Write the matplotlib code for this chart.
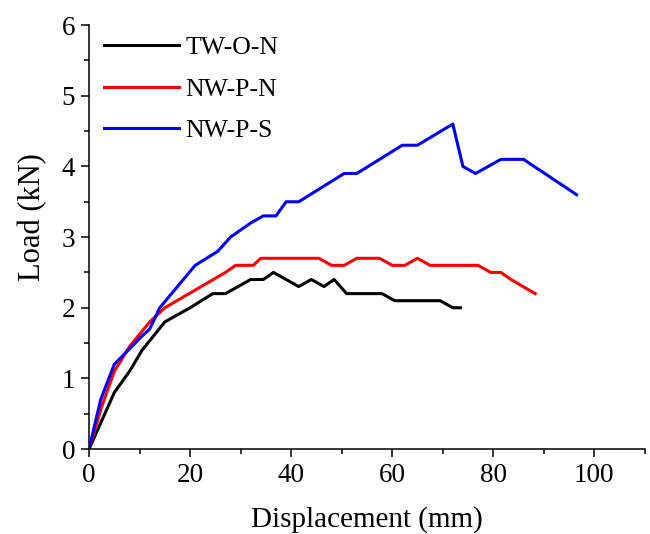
import numpy as np
import matplotlib
matplotlib.use("Agg")
import matplotlib.pyplot as plt
from matplotlib.ticker import MultipleLocator

# load-displacement curves
tw_o_n_x = [0, 2.5, 5, 8, 10.5, 15, 20, 24.5, 27, 32, 34.5, 36.5, 41.5, 44, 46.5, 48.5, 51, 58, 60.5, 69.5, 72, 73.5]
tw_o_n_y = [0, 0.4, 0.8, 1.1, 1.4, 1.8, 2.0, 2.2, 2.2, 2.4, 2.4, 2.5, 2.3, 2.4, 2.3, 2.4, 2.2, 2.2, 2.1, 2.1, 2.0, 2.0]

nw_p_n_x = [0, 2.5, 5, 8, 12, 15, 27, 29, 32.5, 34, 45.5, 48, 50.5, 53, 57.5, 60, 62.5, 65, 67.5, 77, 79.5, 81.5, 83.5, 88.3]
nw_p_n_y = [0, 0.6, 1.1, 1.45, 1.8, 2.0, 2.5, 2.6, 2.6, 2.7, 2.7, 2.6, 2.6, 2.7, 2.7, 2.6, 2.6, 2.7, 2.6, 2.6, 2.5, 2.5, 2.4, 2.2]

nw_p_s_x = [0, 2.3, 5, 10.5, 12, 14, 21, 25.5, 28, 32, 34.5, 37, 39, 41.5, 50.5, 53, 62, 65, 72, 74, 76.5, 81.5, 86, 96.5]
nw_p_s_y = [0, 0.7, 1.2, 1.6, 1.7, 2.0, 2.6, 2.8, 3.0, 3.2, 3.3, 3.3, 3.5, 3.5, 3.9, 3.9, 4.3, 4.3, 4.6, 4.0, 3.9, 4.1, 4.1, 3.6]

plt.rcParams['font.family'] = ['Liberation Serif', 'DejaVu Serif']
plt.rcParams['font.size'] = 19.5

fig = plt.figure(figsize=(6.5, 5.34), dpi=100)
ax = fig.add_axes([0.137, 0.159, 0.855, 0.794])

ax.plot(tw_o_n_x, tw_o_n_y, color='black', lw=2.2, label='TW-O-N')
ax.plot(nw_p_n_x, nw_p_n_y, color='red', lw=2.2, label='NW-P-N')
ax.plot(nw_p_s_x, nw_p_s_y, color='blue', lw=2.2, label='NW-P-S')

ax.set_xlim(0, 110)
ax.set_ylim(0, 6)
ax.xaxis.set_major_locator(MultipleLocator(20))
ax.xaxis.set_minor_locator(MultipleLocator(10))
ax.yaxis.set_major_locator(MultipleLocator(1))
ax.yaxis.set_minor_locator(MultipleLocator(0.5))
ax.tick_params(which='major', direction='out', length=6, width=1.1, pad=4)
ax.tick_params(which='minor', direction='out', length=3.5, width=1.1)
for s in ['top', 'right']:
    ax.spines[s].set_visible(False)
for s in ['left', 'bottom']:
    ax.spines[s].set_linewidth(1.1)

ax.set_xlabel('Displacement (mm)', fontsize=21, labelpad=13)
ax.set_ylabel('Load (kN)', fontsize=22)
ax.yaxis.set_label_coords(-0.076, 0.547)

ax.legend(loc='upper left', frameon=False, fontsize=18.5, handlelength=2.9,
          handletextpad=0.25, labelspacing=0.72, borderaxespad=0.2,
          bbox_to_anchor=(0.0, 1.01))

fig.savefig('out.png', dpi=100)
